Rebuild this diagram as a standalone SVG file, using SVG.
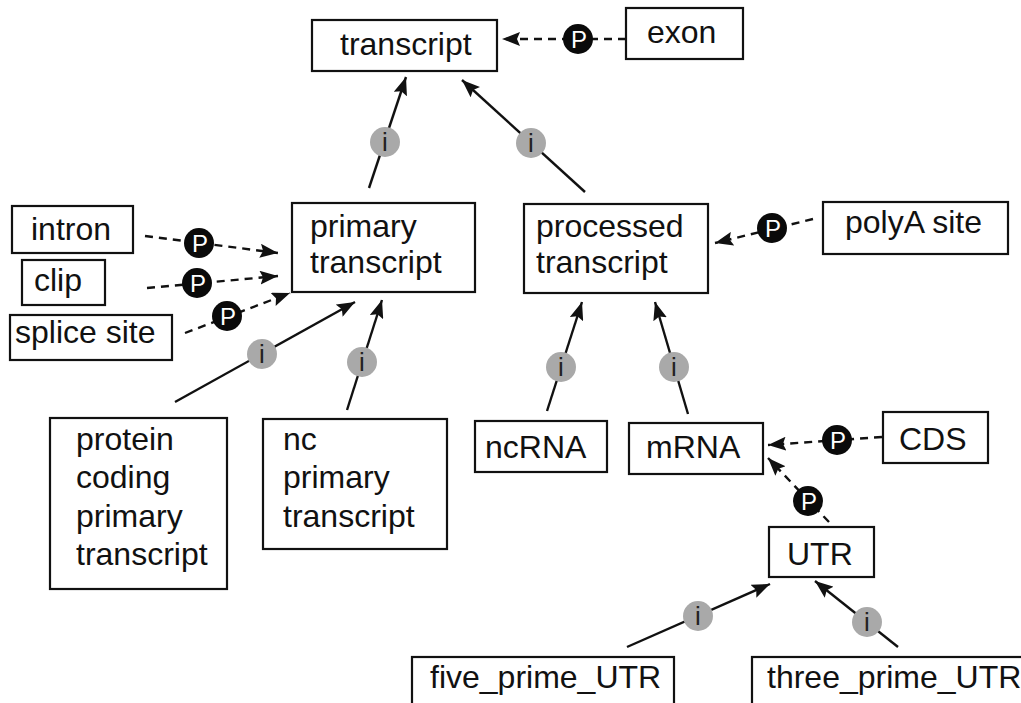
<svg xmlns="http://www.w3.org/2000/svg" width="1021" height="703" viewBox="0 0 1021 703">
<style>
.box{fill:#fff;stroke:#111;stroke-width:2.2}
.t{font-family:"Liberation Sans",Arial,sans-serif;font-size:32px;fill:#111}
.isa{stroke:#111;stroke-width:2.4;fill:none}
.part{stroke:#111;stroke-width:2.4;fill:none;stroke-dasharray:8 6}
.ic{fill:#a9a9a9}
.it{font-family:"Liberation Sans",Arial,sans-serif;font-size:26px;fill:#222;text-anchor:middle}
.pc{fill:#0a0a0a}
.pt{font-family:"Liberation Sans",Arial,sans-serif;font-size:24px;fill:#fff;text-anchor:middle}
</style>
<defs>
<marker id="ah" markerUnits="userSpaceOnUse" markerWidth="20" markerHeight="14" refX="18" refY="7" orient="auto">
<path d="M0,0 L18,7 L0,14 L3,7 z" fill="#111"/>
</marker>
</defs>
<rect width="1021" height="703" fill="#fff"/>
<g id="connectors">
<line class="isa" x1="369" y1="188" x2="406" y2="77" marker-end="url(#ah)"/>
<line class="isa" x1="585" y1="192" x2="462" y2="80" marker-end="url(#ah)"/>
<line class="part" x1="626" y1="39" x2="502" y2="39" marker-end="url(#ah)"/>
<line class="part" x1="145" y1="236" x2="278" y2="253" marker-end="url(#ah)"/>
<line class="part" x1="147" y1="288" x2="278" y2="276" marker-end="url(#ah)"/>
<line class="part" x1="185" y1="333" x2="290" y2="293" marker-end="url(#ah)"/>
<line class="isa" x1="175" y1="402" x2="355" y2="302" marker-end="url(#ah)"/>
<line class="isa" x1="347" y1="410" x2="382" y2="300" marker-end="url(#ah)"/>
<line class="part" x1="813" y1="219" x2="715" y2="243" marker-end="url(#ah)"/>
<line class="isa" x1="547" y1="411" x2="582" y2="302" marker-end="url(#ah)"/>
<line class="isa" x1="688" y1="414" x2="655" y2="302" marker-end="url(#ah)"/>
<line class="part" x1="882" y1="437" x2="768" y2="445" marker-end="url(#ah)"/>
<line class="part" x1="829" y1="522" x2="768" y2="458" marker-end="url(#ah)"/>
<line class="isa" x1="627" y1="647" x2="770" y2="584" marker-end="url(#ah)"/>
<line class="isa" x1="898" y1="647" x2="815" y2="581" marker-end="url(#ah)"/>
<g id="labels">
<circle class="ic" cx="385" cy="142" r="15"/><text class="it" x="385" y="151">i</text>
<circle class="ic" cx="531" cy="143" r="15"/><text class="it" x="531" y="152">i</text>
<circle class="pc" cx="578" cy="39" r="15"/><text class="pt" x="579" y="47.5">P</text>
<circle class="pc" cx="199" cy="243" r="15"/><text class="pt" x="200" y="251.5">P</text>
<circle class="pc" cx="197" cy="283" r="15"/><text class="pt" x="198" y="291.5">P</text>
<circle class="pc" cx="227" cy="316" r="15"/><text class="pt" x="228" y="324.5">P</text>
<circle class="ic" cx="262" cy="354" r="15"/><text class="it" x="262" y="363">i</text>
<circle class="ic" cx="362" cy="362" r="15"/><text class="it" x="362" y="371">i</text>
<circle class="pc" cx="772" cy="228" r="15"/><text class="pt" x="773" y="236.5">P</text>
<circle class="ic" cx="561" cy="367" r="15"/><text class="it" x="561" y="376">i</text>
<circle class="ic" cx="674" cy="367" r="15"/><text class="it" x="674" y="376">i</text>
<circle class="pc" cx="837" cy="440" r="15"/><text class="pt" x="838" y="448.5">P</text>
<circle class="pc" cx="808" cy="501" r="15"/><text class="pt" x="809" y="509.5">P</text>
<circle class="ic" cx="698" cy="616" r="15"/><text class="it" x="698" y="625">i</text>
<circle class="ic" cx="867" cy="622" r="15"/><text class="it" x="867" y="631">i</text>
</g>
</g>
<g id="transcript"><rect class="box" x="312" y="20" width="185" height="51"/><text class="t" x="340" y="55">transcript</text></g>
<g id="exon"><rect class="box" x="626" y="8" width="117" height="51"/><text class="t" x="647" y="43">exon</text></g>
<g id="intron"><rect class="box" x="12" y="206" width="121" height="47"/><text class="t" x="31" y="240">intron</text></g>
<g id="clip"><rect class="box" x="22" y="260" width="83" height="45"/><text class="t" x="34" y="291">clip</text></g>
<g id="splice_site"><rect class="box" x="10" y="315" width="162" height="45"/><text class="t" x="15" y="343">splice site</text></g>
<g id="primary_transcript"><rect class="box" x="292" y="203" width="183" height="89"/><text class="t" x="310" y="237">primary</text><text class="t" x="310" y="273">transcript</text></g>
<g id="processed_transcript"><rect class="box" x="524" y="204" width="184" height="89"/><text class="t" x="536" y="237">processed</text><text class="t" x="536" y="273">transcript</text></g>
<g id="polyA_site"><rect class="box" x="823" y="202" width="185" height="52"/><text class="t" x="845" y="233">polyA site</text></g>
<g id="protein_coding_primary_transcript"><rect class="box" x="50" y="418" width="177" height="171"/><text class="t" x="76" y="450">protein</text><text class="t" x="76" y="488">coding</text><text class="t" x="76" y="527">primary</text><text class="t" x="76" y="565">transcript</text></g>
<g id="nc_primary_transcript"><rect class="box" x="263" y="419" width="184" height="130"/><text class="t" x="283" y="450">nc</text><text class="t" x="283" y="488">primary</text><text class="t" x="283" y="527">transcript</text></g>
<g id="ncRNA"><rect class="box" x="475" y="421" width="132" height="51"/><text class="t" x="485" y="458">ncRNA</text></g>
<g id="mRNA"><rect class="box" x="629" y="423" width="134" height="51"/><text class="t" x="646" y="458">mRNA</text></g>
<g id="CDS"><rect class="box" x="883" y="412" width="105" height="51"/><text class="t" x="899" y="450">CDS</text></g>
<g id="UTR"><rect class="box" x="769" y="527" width="105" height="50"/><text class="t" x="787" y="565">UTR</text></g>
<g id="five_prime_UTR"><rect class="box" x="412" y="657" width="262" height="60"/><text class="t" x="430" y="688">five_prime_UTR</text></g>
<g id="three_prime_UTR"><rect class="box" x="752" y="657" width="290" height="60"/><text class="t" x="767" y="688">three_prime_UTR</text></g>
</svg>
